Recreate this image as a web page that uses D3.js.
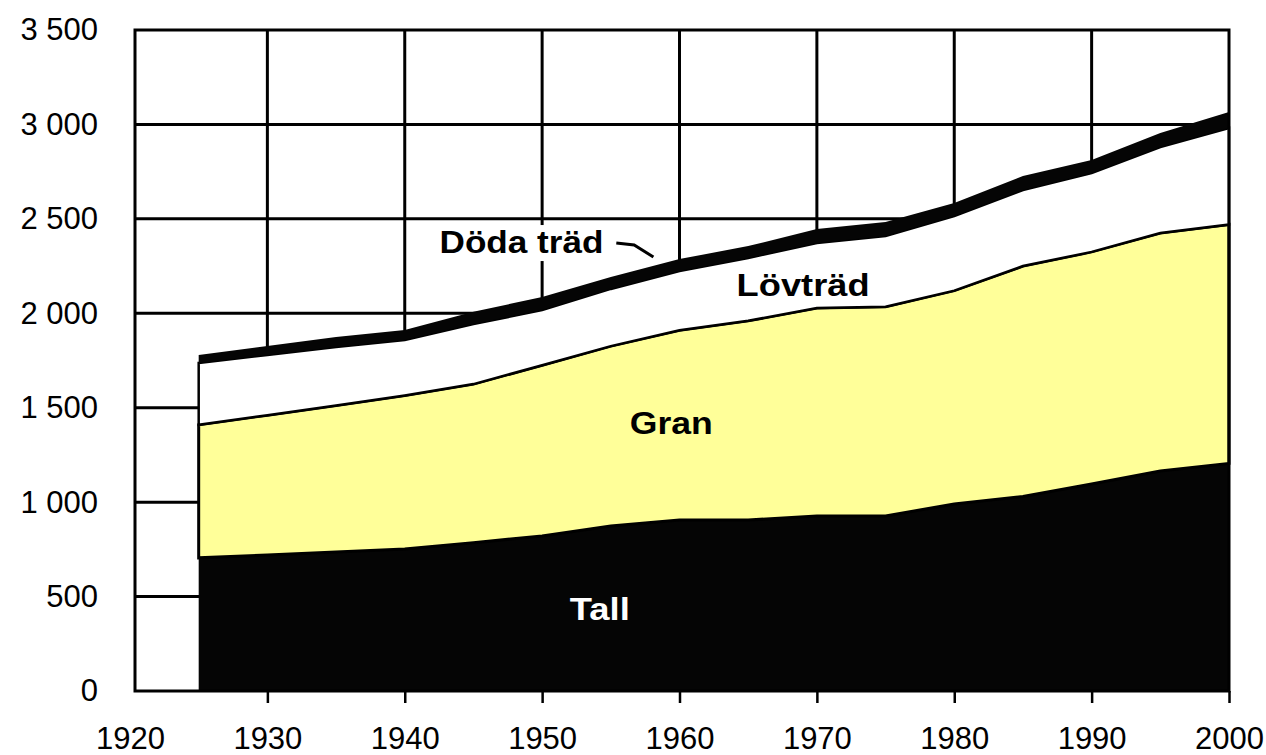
<!DOCTYPE html>
<html>
<head>
<meta charset="utf-8">
<script src="https://cdn.jsdelivr.net/npm/d3@7"></script>
<style>
  body { margin: 0; background: #fff; }
  svg { display: block; font-family: "Liberation Sans", Arial, sans-serif; }
</style>
</head>
<body>
<svg id="chart"></svg>
<script>
// Data, one value per series and year
var years    = [1925, 1930, 1935, 1940, 1945, 1950, 1955, 1960, 1965, 1970, 1975, 1980, 1985, 1990, 1995, 2000];
var tall     = [705, 720, 736, 752, 785, 821, 874, 905, 905, 927, 927, 990, 1030, 1096, 1165, 1205];
var gran     = [705, 740, 776, 813, 840, 904, 952, 1005, 1055, 1101, 1108, 1130, 1220, 1229, 1260, 1265];
var lovtrad  = [327, 319, 309, 294, 318, 292, 303, 314, 333, 344, 374, 395, 403, 418, 455, 511];
var dodaTrad = [42, 48, 53, 52, 65, 69, 63, 63, 63, 74, 74, 69, 74, 69, 75, 85];
var seriesNames = ["Tall", "Gran", "Lövträd", "Döda träd"];
var xTicks = [1920, 1930, 1940, 1950, 1960, 1970, 1980, 1990, 2000];
var yTicks = [0, 500, 1000, 1500, 2000, 2500, 3000, 3500];

var width = 1266, height = 755;
var plotLeft = 135, plotRight = 1229, plotTop = 30, plotBottom = 691;

var svg = d3.select("#chart")
  .attr("width", width)
  .attr("height", height);

// Scales (the 1920 tick sits a little left of the frame in the original)
var x = d3.scaleLinear().domain([1920, 2000]).range([130, plotRight]);
var y = d3.scaleLinear().domain([0, 3500]).range([plotBottom, plotTop]);

// Table for the stack
var table = years.map(function(yr, i) {
  return { year: yr, "Tall": tall[i], "Gran": gran[i], "Lövträd": lovtrad[i], "Döda träd": dodaTrad[i] };
});
var layers = d3.stack().keys(seriesNames)(table);

var fills = { "Tall": "#050505", "Gran": "#ffff99", "Lövträd": "#ffffff", "Döda träd": "#050505" };
var strokes = { "Tall": 0, "Gran": 3, "Lövträd": 2.5, "Döda träd": 0 };

// Gridlines
svg.append("g").selectAll("line")
  .data(yTicks.slice(1, -1))
  .enter().append("line")
  .attr("x1", plotLeft).attr("x2", plotRight)
  .attr("y1", d => y(d)).attr("y2", d => y(d))
  .attr("stroke", "#000").attr("stroke-width", 3);

svg.append("g").selectAll("line")
  .data(xTicks.slice(1, -1))
  .enter().append("line")
  .attr("x1", d => x(d)).attr("x2", d => x(d))
  .attr("y1", plotTop).attr("y2", plotBottom)
  .attr("stroke", "#000").attr("stroke-width", 3);

// Stacked areas
var area = d3.area()
  .x(d => x(d.data.year))
  .y0(d => y(d[0]))
  .y1(d => y(d[1]));

svg.append("g").selectAll("path")
  .data(layers)
  .enter().append("path")
  .attr("d", area)
  .attr("fill", d => fills[d.key])
  .attr("stroke", d => strokes[d.key] ? "#000" : "none")
  .attr("stroke-width", d => strokes[d.key]);

// Frame
svg.append("rect")
  .attr("x", plotLeft).attr("y", plotTop)
  .attr("width", plotRight - plotLeft).attr("height", plotBottom - plotTop)
  .attr("fill", "none").attr("stroke", "#000").attr("stroke-width", 3);

// Axes
var fmt = d3.formatLocale({ decimal: ",", thousands: " ", grouping: [3], currency: ["", ""] }).format(",");

var xAxis = svg.append("g")
  .attr("transform", "translate(0," + plotBottom + ")")
  .call(d3.axisBottom(x).tickValues(xTicks).tickSize(12).tickPadding(24).tickFormat(d3.format("d")));
xAxis.select(".domain").remove();
xAxis.selectAll("line").attr("stroke", "#000").attr("stroke-width", 2.5);
xAxis.selectAll(".tick").filter(d => d === 1920).select("line").remove();
xAxis.selectAll("text").attr("font-size", 31).attr("fill", "#000").attr("font-family", null);

var yAxis = svg.append("g")
  .attr("transform", "translate(" + plotLeft + ",0)")
  .call(d3.axisLeft(y).tickValues(yTicks).tickSize(0).tickPadding(37).tickFormat(fmt));
yAxis.select(".domain").remove();
yAxis.selectAll("text").attr("font-size", 31).attr("fill", "#000").attr("font-family", null);

// Series labels
var labelText = ["Tall", "Gran", "Lövträd", "Döda träd"];
var labelYear = [1954.2, 1959.4, 1969.0, 1948.5];
var labelValue = [376, 1361, 2091, 2319];
var labelWidth = [60, 83, 133, 164];
var labelColor = ["#fff", "#000", "#000", "#000"];

// White box behind "Döda träd" hides the gridline there
var dodaIdx = 3;
svg.append("rect")
  .attr("x", x(labelYear[dodaIdx]) - labelWidth[dodaIdx] / 2 - 6)
  .attr("y", y(labelValue[dodaIdx]) - 28)
  .attr("width", labelWidth[dodaIdx] + 12)
  .attr("height", 36)
  .attr("fill", "#fff");

svg.append("g").selectAll("text")
  .data(labelText)
  .enter().append("text")
  .attr("x", (d, i) => x(labelYear[i]))
  .attr("y", (d, i) => y(labelValue[i]))
  .attr("text-anchor", "middle")
  .attr("font-size", 31)
  .attr("font-weight", "bold")
  .attr("textLength", (d, i) => labelWidth[i])
  .attr("lengthAdjust", "spacingAndGlyphs")
  .attr("fill", (d, i) => labelColor[i])
  .text(d => d);

// Leader line from "Döda träd" to its band
svg.append("path")
  .attr("d", d3.line()([[x(1955.4), y(2372)], [x(1956.7), y(2362)], [x(1958.1), y(2298)]]))
  .attr("fill", "none")
  .attr("stroke", "#000")
  .attr("stroke-width", 3);
</script>
</body>
</html>
